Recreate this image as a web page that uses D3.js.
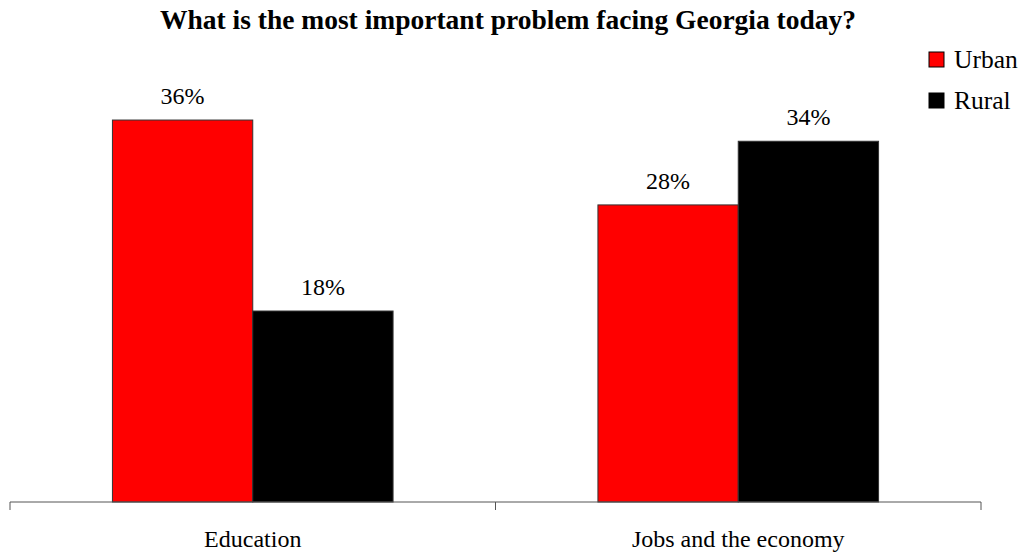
<!DOCTYPE html>
<html>
<head>
<meta charset="utf-8">
<script src="https://cdn.jsdelivr.net/npm/d3@7"></script>
<style>
  body { margin: 0; background: #fff; }
  svg { display: block; font-family: "Liberation Serif", "Times New Roman", serif; }
</style>
</head>
<body>
<svg id="chart" width="1025" height="554"></svg>
<script>
const categories = ["Education", "Jobs and the economy"];
const seriesNames = ["Urban", "Rural"];
const urban = [36, 28];
const rural = [18, 34];
const colors = ["#ff0000", "#000000"];

const svg = d3.select("#chart");
const margin = { left: 10, right: 44, top: 77.6, bottom: 52 };
const W = 1025, H = 554;
const baseY = H - margin.bottom;

const x = d3.scaleBand().domain(categories).range([margin.left, W - margin.right]).paddingInner(0).paddingOuter(0);
const inner = d3.scaleBand().domain(seriesNames).range([0, x.bandwidth()]).paddingInner(0).paddingOuter(0.73);
const y = d3.scaleLinear().domain([0, 40]).range([baseY, margin.top]);

const rows = categories.map((c, i) => ({ cat: c, vals: [urban[i], rural[i]] }));

// title
svg.append("text")
  .attr("x", 508).attr("y", 29)
  .attr("text-anchor", "middle")
  .attr("font-weight", "bold").attr("font-size", 27.5)
  .text("What is the most important problem facing Georgia today?");

// bars with value labels
const g = svg.append("g");
rows.forEach(r => {
  r.vals.forEach((v, j) => {
    const bx = x(r.cat) + inner(seriesNames[j]);
    g.append("rect")
      .attr("x", bx).attr("y", y(v))
      .attr("width", inner.bandwidth()).attr("height", baseY - y(v))
      .attr("fill", colors[j])
      .attr("stroke", "#333").attr("stroke-width", 1);
    g.append("text")
      .attr("x", bx + inner.bandwidth() / 2).attr("y", y(v) - 16)
      .attr("text-anchor", "middle").attr("font-size", 24)
      .text(v + "%");
  });
});

// category axis
const axis = d3.axisBottom(x).tickSize(0).tickFormat("");
const ax = svg.append("g").attr("transform", `translate(0,${baseY})`).call(axis);
ax.select(".domain").attr("stroke", "#555").attr("d", `M${margin.left},0H${W - margin.right}`);
const bounds = [margin.left].concat(categories.map(c => x(c) + x.bandwidth()));
ax.selectAll(".sep").data(bounds).enter().append("line")
  .attr("x1", d => d).attr("x2", d => d).attr("y1", 0).attr("y2", 8)
  .attr("stroke", "#555");
ax.selectAll(".cat").data(categories).enter().append("text")
  .attr("x", d => x(d) + x.bandwidth() / 2).attr("y", 45)
  .attr("text-anchor", "middle").attr("font-size", 24).attr("fill", "#000")
  .attr("font-family", "Liberation Serif, Times New Roman, serif")
  .text(d => d);

// legend
const leg = svg.append("g").attr("transform", "translate(929,52)");
seriesNames.forEach((s, i) => {
  leg.append("rect").attr("x", 0).attr("y", i * 41).attr("width", 15).attr("height", 15)
    .attr("fill", colors[i]).attr("stroke", "#000").attr("stroke-width", 1);
  leg.append("text").attr("x", 25).attr("y", i * 41 + 16).attr("font-size", 25.5).text(s);
});
</script>
</body>
</html>
